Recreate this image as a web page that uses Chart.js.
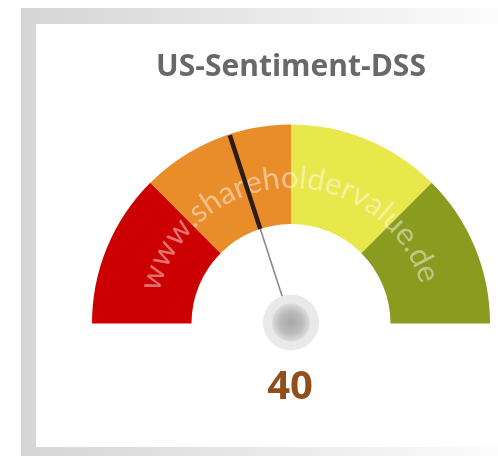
<!DOCTYPE html>
<html lang="de">
<head>
  <meta charset="UTF-8">
  <title>US-Sentiment-DSS</title>
  <script src="https://cdn.jsdelivr.net/npm/chart.js"></script>
  <style>
    html, body {
      margin: 0;
      padding: 0;
      background: #fff;
      overflow: hidden;
    }
    #frame {
      position: fixed;
      left: 21px;
      top: 8px;
      width: 520px;
      bottom: 0;
      background: linear-gradient(to right, #d5d5d5 0, #fcfcfc 477px, #fff 520px);
    }
    #inner {
      position: fixed;
      left: 36px;
      top: 24px;
      width: 520px;
      bottom: 9px;
      background: #fff;
    }
    #gauge {
      position: fixed;
      left: 0;
      top: 0;
    }
  </style>
</head>
<body>
  <div id="frame"></div>
  <div id="inner"></div>
  <canvas id="gauge" width="498" height="456"></canvas>

  <script>
    // gauge zones (0..100), one slice each
    const zones = ['sehr negativ', 'negativ', 'positiv', 'sehr positiv'];
    const zoneSizes = [25, 25, 25, 25];
    const zoneColors = ['#cc0000', '#e88d2a', '#e8e84c', '#8a9c1f'];
    const gaugeMin = 0;
    const gaugeMax = 100;
    const sentiment = 40;
    const watermark = 'www.shareholdervalue.de';

    const gaugeExtras = {
      id: 'gaugeExtras',
      afterDatasetsDraw(chart) {
        const ctx = chart.ctx;
        const arcs = chart.getDatasetMeta(0).data;
        const first = arcs[0];
        const last = arcs[arcs.length - 1];
        const cx = first.x, cy = first.y;
        const rOut = first.outerRadius, rIn = first.innerRadius;

        // watermark text along the arc
        ctx.save();
        ctx.font = '31px Lato';
        ctx.fillStyle = 'rgba(255,255,255,0.45)';
        ctx.textAlign = 'center';
        ctx.textBaseline = 'alphabetic';
        const R = rIn + 36;
        const widths = watermark.split('').map(c => ctx.measureText(c).width);
        const total = widths.reduce((a, b) => a + b, 0);
        let a = -Math.PI / 2 - total / R / 2 - 0.03;
        watermark.split('').forEach((c, i) => {
          const t = a + widths[i] / 2 / R;
          ctx.save();
          ctx.translate(cx + R * Math.cos(t), cy + R * Math.sin(t));
          ctx.rotate(t + Math.PI / 2);
          ctx.fillText(c, 0, 0);
          ctx.restore();
          a += widths[i] / R;
        });
        ctx.restore();

        // needle
        const frac = (sentiment - gaugeMin) / (gaugeMax - gaugeMin);
        const ang = first.startAngle + (last.endAngle - first.startAngle) * frac;
        const dx = Math.cos(ang), dy = Math.sin(ang);
        ctx.save();
        ctx.lineCap = 'butt';
        ctx.strokeStyle = '#8a8a8a';
        ctx.lineWidth = 1.6;
        ctx.beginPath();
        ctx.moveTo(cx + dx * 26, cy + dy * 26);
        ctx.lineTo(cx + dx * rIn, cy + dy * rIn);
        ctx.stroke();
        ctx.strokeStyle = '#2e1c10';
        ctx.lineWidth = 4.5;
        ctx.beginPath();
        ctx.moveTo(cx + dx * rIn, cy + dy * rIn);
        ctx.lineTo(cx + dx * (rOut - 1), cy + dy * (rOut - 1));
        ctx.stroke();

        // hub
        ctx.fillStyle = '#e9e9e9';
        ctx.beginPath();
        ctx.arc(cx, cy - 1, 28, 0, Math.PI * 2);
        ctx.fill();
        const g = ctx.createRadialGradient(cx, cy - 1, 0, cx, cy - 1, 19);
        g.addColorStop(0, '#a6a6a6');
        g.addColorStop(0.6, '#bcbcbc');
        g.addColorStop(1, '#dcdcdc');
        ctx.fillStyle = g;
        ctx.beginPath();
        ctx.arc(cx, cy - 1, 19, 0, Math.PI * 2);
        ctx.fill();

        // value
        ctx.fillStyle = '#8f4f1d';
        ctx.font = 'bold 40px "Open Sans"';
        ctx.textAlign = 'center';
        ctx.textBaseline = 'middle';
        ctx.fillText(String(sentiment), cx - 1, cy + 64);
        ctx.restore();
      }
    };

    new Chart(document.getElementById('gauge'), {
      type: 'doughnut',
      data: {
        labels: zones,
        datasets: [{
          data: zoneSizes,
          backgroundColor: zoneColors,
          borderWidth: 0
        }]
      },
      options: {
        responsive: false,
        animation: false,
        rotation: -90,
        circumference: 180,
        cutout: '50%',
        layout: {
          padding: { left: 92, right: 8, top: 0, bottom: 132 }
        },
        plugins: {
          legend: { display: false },
          tooltip: { enabled: false },
          title: {
            display: true,
            text: 'US-Sentiment-DSS',
            color: '#686868',
            font: { family: '"Open Sans"', size: 30, weight: 'bold', lineHeight: 1.2 },
            padding: { top: 49, bottom: 39 }
          }
        }
      },
      plugins: [gaugeExtras]
    });
  </script>
</body>
</html>
